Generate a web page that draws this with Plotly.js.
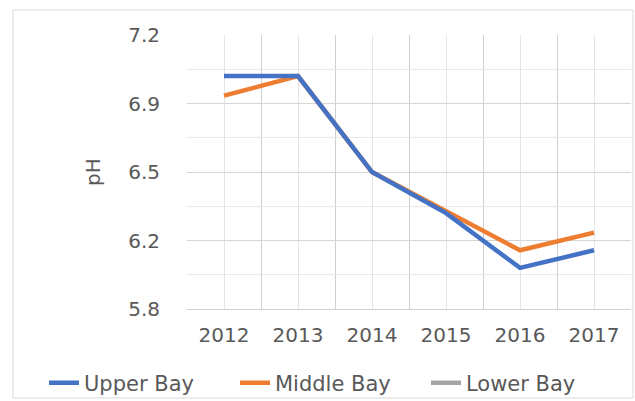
<!DOCTYPE html>
<html>
<head>
<meta charset="utf-8">
<script src="https://cdn.plot.ly/plotly-3.0.1.min.js"></script>
<style>html,body{margin:0;padding:0;background:#fff;}#chart{width:635px;height:401px;}</style>
</head>
<body>
<div id="chart"></div>
<script>
const years = [2012, 2013, 2014, 2015, 2016, 2017];
const yearLabels = ['2012', '2013', '2014', '2015', '2016', '2017'];
const upperBay = [6.99, 6.99, 6.50, 6.29, 6.01, 6.10];
const middleBay = [6.89, 6.99, 6.50, 6.30, 6.10, 6.19];
const lowerBay = [null, null, null, null, null, null];
const yTickVals = [5.8, 6.15, 6.5, 6.85, 7.2];
const yTickText = ['5.8', '6.2', '6.5', '6.9', '7.2'];

const font = {family: 'DejaVu Sans, sans-serif', size: 20, color: '#595959'};
const legendFont = {family: 'DejaVu Sans, sans-serif', size: 21, color: '#595959'};

const data = [
  {x: years, y: middleBay, name: 'Middle Bay', type: 'scatter', mode: 'lines', legendrank: 2,
   line: {color: '#ED7D31', width: 4.5}},
  {x: years, y: upperBay, name: 'Upper Bay', type: 'scatter', mode: 'lines', legendrank: 1,
   line: {color: '#4472C4', width: 4.5}},
  {x: years, y: lowerBay, name: 'Lower Bay', type: 'scatter', mode: 'lines', legendrank: 3,
   line: {color: '#A5A5A5', width: 4.5}}
];

const layout = {
  width: 635, height: 401,
  margin: {l: 187, r: 4, t: 35, b: 92, autoexpand: false},
  paper_bgcolor: '#ffffff', plot_bgcolor: '#ffffff',
  font: font,
  showlegend: true,
  legend: {orientation: 'h', x: (44 - 187) / 444, xanchor: 'left',
           y: (309 - 383) / 274, yanchor: 'middle',
           font: legendFont, itemwidth: 30, entrywidth: 146, bgcolor: 'rgba(0,0,0,0)'},
  xaxis: {
    range: [2011.5, 2017.5], tickmode: 'array', tickvals: years, ticktext: yearLabels,
    showgrid: true, gridcolor: '#e4e4e4', gridwidth: 1,
    minor: {tick0: 2011.5, dtick: 1, showgrid: true, gridcolor: '#cfcfcf', gridwidth: 1},
    showline: true, linecolor: '#cfcfcf', linewidth: 1,
    ticks: '', ticklabelstandoff: 8, zeroline: false, fixedrange: true
  },
  yaxis: {
    range: [5.8, 7.2], tickmode: 'array', tickvals: yTickVals, ticktext: yTickText,
    showgrid: true, gridcolor: '#d6d6d6', gridwidth: 1,
    minor: {tick0: 5.8, dtick: 0.175, showgrid: true, gridcolor: '#e8e8e8', gridwidth: 1},
    ticks: '', ticklabelstandoff: 26, zeroline: false,
    title: {text: 'pH', font: font, standoff: 22}
  },
  shapes: [{type: 'rect', xref: 'paper', yref: 'paper',
    x0: (13 - 187) / 444, x1: (633 - 187) / 444,
    y0: (309 - 398) / 274, y1: (309 - 10) / 274,
    line: {color: '#d9d9d9', width: 1}, layer: 'below'}]
};

Plotly.newPlot('chart', data, layout, {displayModeBar: false, staticPlot: true});
</script>
</body>
</html>
